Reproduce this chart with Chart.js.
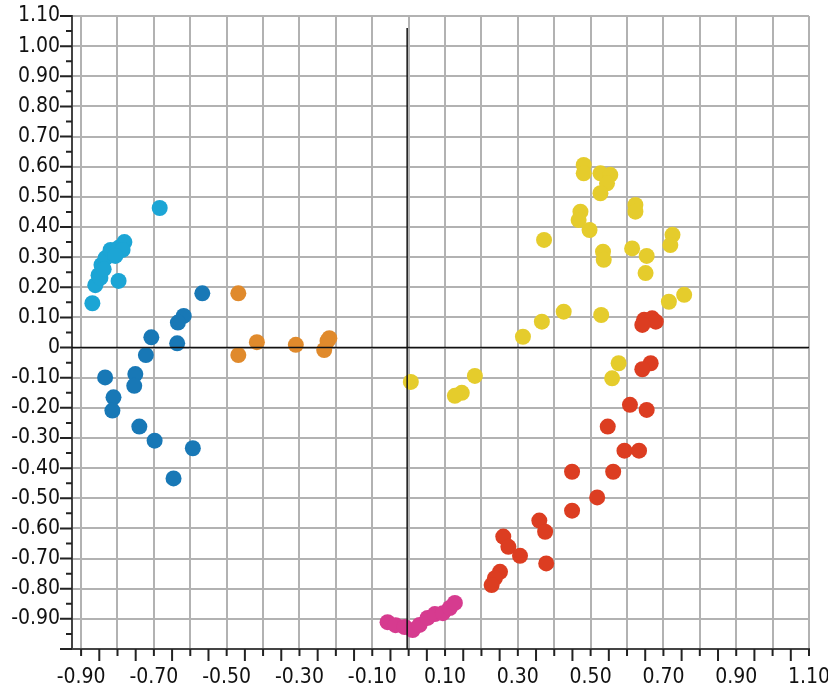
<!DOCTYPE html>
<html>
<head>
<meta charset="utf-8">
<title>Scatter</title>
<script src="https://cdn.jsdelivr.net/npm/chart.js@4/dist/chart.umd.min.js"></script>
<style>
	html, body { margin: 0; padding: 0; background: #fff; }
	#wrap { width: 828px; height: 686px; }
</style>
</head>
<body>
<div id="wrap"><canvas id="scatter" width="828" height="686"></canvas></div>
<script>
// Points, one list per colour group: [x, y]
var cyanPoints = [
	[-0.684, 0.463], [-0.869, 0.147], [-0.861, 0.207], [-0.852, 0.240], [-0.844, 0.274],
	[-0.833, 0.297], [-0.819, 0.324], [-0.797, 0.331], [-0.781, 0.350], [-0.786, 0.324],
	[-0.797, 0.221], [-0.847, 0.231], [-0.806, 0.304], [-0.838, 0.260]
];
var bluePoints = [
	[-0.567, 0.180], [-0.618, 0.105], [-0.634, 0.083], [-0.707, 0.034], [-0.636, 0.014],
	[-0.722, -0.025], [-0.834, -0.099], [-0.751, -0.088], [-0.754, -0.127], [-0.811, -0.165],
	[-0.814, -0.209], [-0.740, -0.262], [-0.698, -0.309], [-0.593, -0.334], [-0.646, -0.434]
];
var orangePoints = [
	[-0.468, 0.180], [-0.468, -0.025], [-0.417, 0.018], [-0.310, 0.009],
	[-0.223, 0.022], [-0.232, -0.008], [-0.218, 0.031]
];
var magentaPoints = [
	[-0.058, -0.911], [-0.036, -0.921], [-0.011, -0.927], [0.011, -0.937], [0.030, -0.920],
	[0.052, -0.897], [0.072, -0.884], [0.094, -0.881], [0.113, -0.864], [0.127, -0.847]
];
var redPoints = [
	[0.647, 0.092], [0.669, 0.097], [0.679, 0.086], [0.642, 0.075], [0.665, -0.052],
	[0.642, -0.072], [0.608, -0.190], [0.654, -0.207], [0.547, -0.262], [0.593, -0.342],
	[0.633, -0.342], [0.449, -0.412], [0.562, -0.412], [0.518, -0.497], [0.449, -0.541],
	[0.359, -0.574], [0.375, -0.611], [0.260, -0.627], [0.274, -0.661], [0.306, -0.691],
	[0.378, -0.716], [0.251, -0.744], [0.237, -0.765], [0.228, -0.788]
];
var yellowPoints = [
	[0.481, 0.606], [0.481, 0.578], [0.527, 0.578], [0.554, 0.573], [0.545, 0.545],
	[0.527, 0.512], [0.623, 0.473], [0.623, 0.451], [0.472, 0.451], [0.467, 0.423],
	[0.497, 0.390], [0.372, 0.357], [0.725, 0.374], [0.719, 0.340], [0.534, 0.318],
	[0.536, 0.291], [0.614, 0.329], [0.654, 0.304], [0.651, 0.247], [0.757, 0.175],
	[0.715, 0.152], [0.426, 0.119], [0.529, 0.108], [0.366, 0.086], [0.314, 0.036],
	[0.577, -0.052], [0.559, -0.102], [0.182, -0.094], [0.146, -0.150], [0.127, -0.160],
	[0.006, -0.114]
];

// Axes
var xGridValues = [-0.9, -0.8, -0.7, -0.6, -0.5, -0.4, -0.3, -0.2, -0.1, 0, 0.1, 0.2, 0.3, 0.4, 0.5, 0.6, 0.7, 0.8, 0.9, 1.0, 1.1];
var xTickLabels = ["-0.90", "-0.70", "-0.50", "-0.30", "-0.10", "0.10", "0.30", "0.50", "0.70", "0.90", "1.10"];
var yGridValues = [-1.0, -0.9, -0.8, -0.7, -0.6, -0.5, -0.4, -0.3, -0.2, -0.1, 0, 0.1, 0.2, 0.3, 0.4, 0.5, 0.6, 0.7, 0.8, 0.9, 1.0, 1.1];
var yTickLabels = ["-0.90", "-0.80", "-0.70", "-0.60", "-0.50", "-0.40", "-0.30", "-0.20", "-0.10", "0",
	"0.10", "0.20", "0.30", "0.40", "0.50", "0.60", "0.70", "0.80", "0.90", "1.00", "1.10"];

var groups = [
	{ points: cyanPoints, color: "#1ca5d5" },
	{ points: bluePoints, color: "#1878b6" },
	{ points: orangePoints, color: "#e08a2c" },
	{ points: magentaPoints, color: "#d63b8f" },
	{ points: redPoints, color: "#dc3d21" },
	{ points: yellowPoints, color: "#e5cc2c" }
];

function fmt(v) {
	if (Math.abs(v) < 1e-9) {
		return "0";
	}
	return v.toFixed(2);
}

var LABEL_FONT = { family: "'DejaVu Sans Condensed', 'DejaVu Sans', sans-serif", size: 21 };
var GRID = "#b2b2b2";

// Black zero lines plus the small and big tick marks on both axes
var axisMarks = {
	id: "axisMarks",
	afterDraw: function(chart) {
		var ctx = chart.ctx;
		var xs = chart.scales.x;
		var ys = chart.scales.y;
		var area = chart.chartArea;
		var i, v, p;
		ctx.save();
		ctx.strokeStyle = "#111";
		ctx.lineWidth = 1.5;
		ctx.beginPath();
		p = ys.getPixelForValue(0);
		ctx.moveTo(area.left, p);
		ctx.lineTo(area.right, p);
		p = xs.getPixelForValue(0) - 1.5;
		ctx.moveTo(p, ys.getPixelForValue(1.06));
		ctx.lineTo(p, area.bottom);
		ctx.stroke();

		ctx.strokeStyle = "#222";
		ctx.lineWidth = 2;
		ctx.beginPath();
		for (i = -20; i <= 22; i++) {
			v = i * 0.05;
			p = ys.getPixelForValue(v);
			if (p >= area.top - 1 && p <= area.bottom + 1) {
				ctx.moveTo(area.left, p);
				ctx.lineTo(area.left - (i % 2 === 0 ? 12 : 6), p);
			}
		}
		for (i = -19; i <= 22; i++) {
			v = i * 0.05;
			p = xs.getPixelForValue(v);
			if (p >= area.left - 1 && p <= area.right + 1) {
				ctx.moveTo(p, area.bottom);
				ctx.lineTo(p, area.bottom + (i % 2 !== 0 ? 12 : 7));
			}
		}
		ctx.stroke();
		ctx.restore();
	}
};

var ctx = document.getElementById("scatter").getContext("2d");
new Chart(ctx, {
	type: "scatter",
	data: {
		datasets: groups.map(function(g) {
			return {
				data: g.points.map(function(pt) { return { x: pt[0], y: pt[1] }; }),
				backgroundColor: g.color,
				borderWidth: 0,
				pointRadius: 8,
				pointHoverRadius: 8
			};
		})
	},
	options: {
		responsive: false,
		animation: false,
		layout: { padding: { left: 0, top: 16, right: 19, bottom: 0 } },
		plugins: {
			legend: { display: false },
			tooltip: { enabled: false }
		},
		scales: {
			x: {
				type: "linear",
				min: -0.925,
				max: 1.1,
				afterBuildTicks: function(scale) {
					scale.ticks = xGridValues.map(function(v) { return { value: v }; });
				},
				afterFit: function(scale) {
					scale.height = 37;
					scale.paddingLeft = 0;
					scale.paddingRight = 0;
				},
				grid: { color: GRID, lineWidth: 2, drawTicks: false },
				border: { color: "#444", width: 2 },
				ticks: {
					font: LABEL_FONT,
					color: "#111",
					padding: 16,
					maxRotation: 0,
					autoSkip: false,
					callback: function(v) {
						var s = fmt(v);
						return xTickLabels.indexOf(s) >= 0 ? s : "";
					}
				}
			},
			y: {
				type: "linear",
				min: -1.0,
				max: 1.1,
				afterBuildTicks: function(scale) {
					scale.ticks = yGridValues.map(function(v) { return { value: v }; });
				},
				afterFit: function(scale) {
					scale.width = 72;
					scale.paddingTop = 0;
					scale.paddingBottom = 0;
				},
				grid: { color: GRID, lineWidth: 2, drawTicks: false },
				border: { color: "#444", width: 2 },
				ticks: {
					font: LABEL_FONT,
					color: "#111",
					padding: 12,
					autoSkip: false,
					callback: function(v) {
						var s = fmt(v);
						return yTickLabels.indexOf(s) >= 0 ? s : "";
					}
				}
			}
		}
	},
	plugins: [axisMarks]
});
</script>
</body>
</html>
